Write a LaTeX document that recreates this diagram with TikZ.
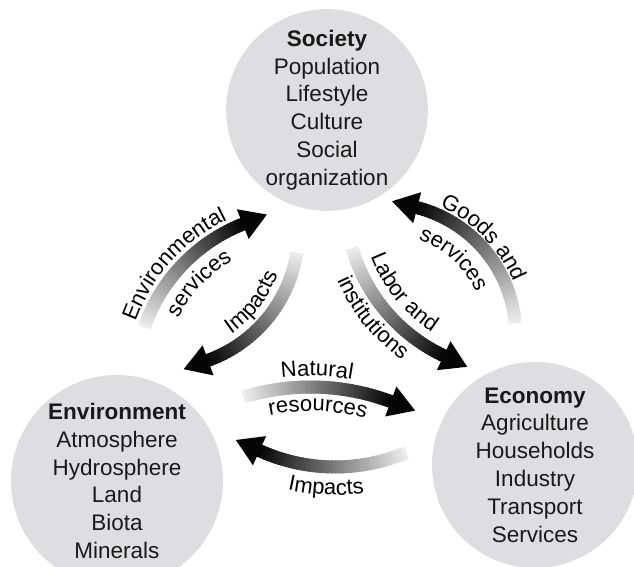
\documentclass[tikz,border=0pt]{standalone}
\usepackage{fontspec}
\setmainfont{Liberation Sans}
\usetikzlibrary{calc}
\usetikzlibrary{decorations.text}

\definecolor{spherefill}{RGB}{221,222,226}
\newcommand{\nodefont}{\fontsize{22.5}{27.8}\selectfont}
\newcommand{\lblfont}{\fontsize{22}{26}\selectfont}

\tikzset{
  sphere/.style={circle, fill=spherefill, inner sep=0pt, align=center, font=\nodefont, text=black!90},
  shaft/.style={line width=13pt},
  arclabel/.style={decorate, decoration={text along path, text align=center, text={|\lblfont|#1}}},
}

% curved flow: centre, radius, start angle, end angle (tip)
\newcommand{\flow}[4]{%
  \pgfmathsetmacro{\flowsign}{sign((#4)-(#3))}
  \pgfmathsetmacro{\flowbase}{(#4)-\flowsign*26/(#2)*180/pi}
  \pgfmathsetmacro{\flowdir}{\flowbase+90*\flowsign}
  \foreach \k in {0,...,39} {
    \pgfmathsetmacro{\segfrom}{(#3)+(\flowbase-(#3))*\k/40}
    \pgfmathsetmacro{\segto}{(#3)+(\flowbase-(#3))*(\k+1.5)/40}
    \pgfmathtruncatemacro{\segtone}{8+90*\k/39}
    \draw[shaft, black!\segtone] ($(#1)+(\segfrom:#2)$) arc[start angle=\segfrom, end angle=\segto, radius=#2];
  }
  \fill[black!98] ($(#1)+(\flowbase:#2+16)$) -- ($(#1)+(\flowbase:#2-16)$)
    -- ($(#1)+(\flowbase:#2)+(\flowdir:26)$) -- cycle;
}

% text along an arc: centre, radius, start angle, end angle, text
\newcommand{\arctext}[5]{%
  \path[arclabel={#5}] ($(#1)+(#3:#2)$) arc[start angle=#3, end angle=#4, radius=#2];
}

\begin{document}
\begin{tikzpicture}[x=1pt, y=1pt]
  \useasboundingbox (0,0) rectangle (634,567);

  \node[sphere, minimum size=200pt] (society) at (327,457)
    {\textbf{Society}\\Population\\Lifestyle\\Culture\\Social\\organization};
  \node[sphere, minimum size=212pt] (environment) at (117,86)
    {\textbf{Environment}\\Atmosphere\\Hydrosphere\\Land\\Biota\\Minerals};
  \node[sphere, minimum size=206pt] (economy) at (535,102)
    {\textbf{Economy}\\Agriculture\\Households\\Industry\\Transport\\Services};

  \coordinate (envsoc) at (306,184);
  \coordinate (socenv) at (161.5,335.5);
  \coordinate (ecosoc) at (384.7,232.4);
  \coordinate (soceco) at (516.5,366);
  \coordinate (enveco) at (310.6,-49);
  \coordinate (ecoenv) at (335,283);

  \flow{envsoc}{171}{161}{103}
  \flow{socenv}{137}{-9}{-81}
  \flow{ecosoc}{131}{5}{87}
  \flow{soceco}{171}{196}{253.5}
  \flow{enveco}{229}{107}{63}
  \flow{ecoenv}{183}{-67}{-122.5}

  \arctext{envsoc}{181}{178}{98}{Environmental}
  \arctext{envsoc}{143}{172}{102}{services}
  \arctext{socenv}{124}{-73}{-3}{Impacts}
  \arctext{ecosoc}{139}{84.5}{4.5}{Goods and}
  \arctext{ecosoc}{101}{87.7}{7.7}{services}
  \arctext{soceco}{156}{184}{254}{Labor and}
  \arctext{soceco}{196}{184}{254}{institutions}
  \arctext{enveco}{240}{113.5}{63.5}{Natural}
  \arctext{enveco}{205}{113}{63}{resources}
  \arctext{ecoenv}{211}{-117.5}{-67.5}{Impacts}
\end{tikzpicture}
\end{document}
